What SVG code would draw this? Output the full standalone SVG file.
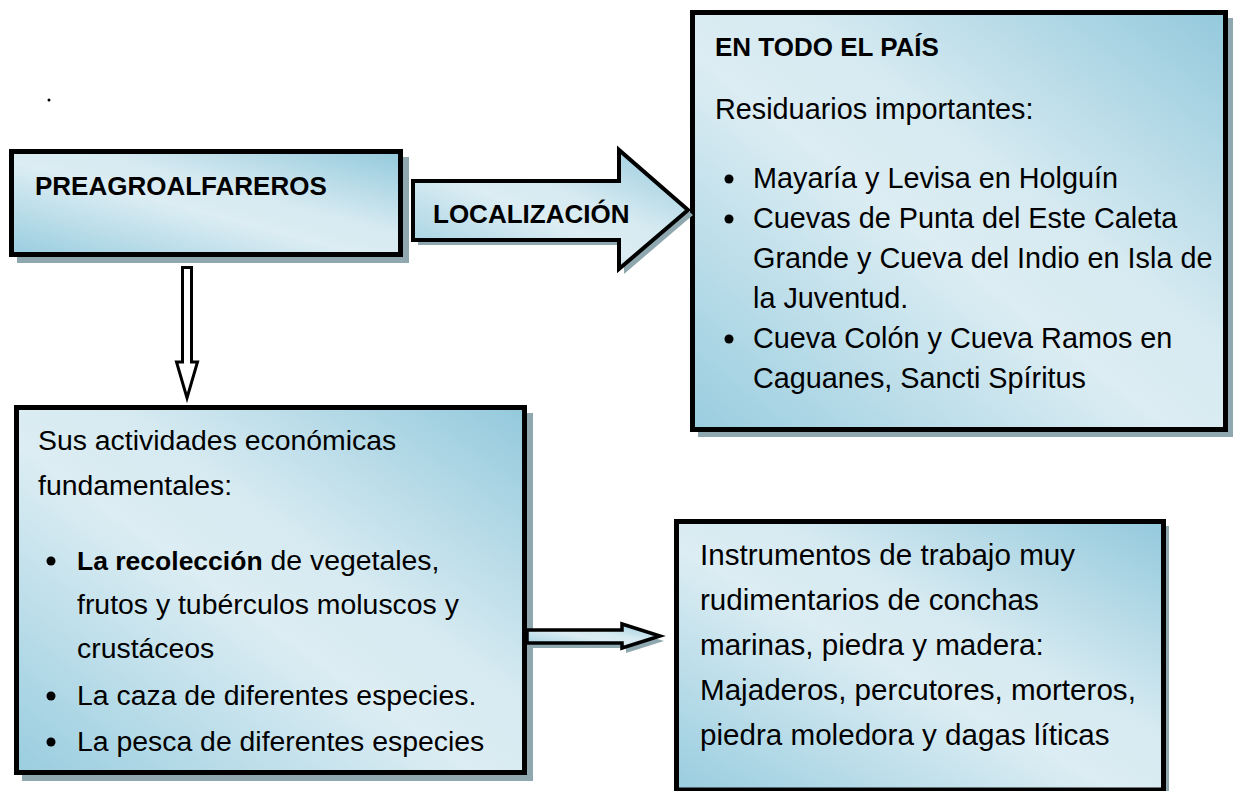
<svg xmlns="http://www.w3.org/2000/svg" width="1233" height="791" viewBox="0 0 1233 791">
<defs>
<linearGradient id="g" x1="0" y1="1" x2="1" y2="0">
<stop offset="0" stop-color="#99cddf"/>
<stop offset="0.45" stop-color="#dcedf3"/>
<stop offset="0.6" stop-color="#d6eaf1"/>
<stop offset="1" stop-color="#93c9dc"/>
</linearGradient>
<style>
.box{fill:url(#g);stroke:#000;stroke-width:5}
.sh{fill:#8fa8b0}
.t{font-family:"Liberation Sans",Arial,sans-serif;font-size:29px;fill:#000}
.b{font-family:"Liberation Sans",Arial,sans-serif;font-size:26px;font-weight:bold;fill:#000}
.arr{fill:url(#g);stroke:#000;stroke-width:4;stroke-linejoin:miter}
</style>
</defs>
<rect width="1233" height="791" fill="#fff"/>
<circle cx="49" cy="100" r="1.5" fill="#000"/>

<g id="preagroalfareros">
<rect class="sh" x="17" y="157" width="392" height="106"/>
<rect class="box" x="11.5" y="151.5" width="389" height="103"/>
<text class="b" x="35" y="195">PREAGROALFAREROS</text>
</g>

<g id="pais">
<rect class="sh" x="698" y="18" width="535" height="419"/>
<rect class="box" x="692.5" y="12.5" width="533" height="417"/>
<text class="b" x="715" y="56">EN TODO EL PAÍS</text>
<g class="t" style="font-size:28.8px">
<text x="715" y="119">Residuarios importantes:</text>
<text x="753" y="188">Mayaría y Levisa en Holguín</text>
<text x="753" y="228">Cuevas de Punta del Este Caleta</text>
<text x="753" y="268">Grande y Cueva del Indio en Isla de</text>
<text x="753" y="308">la Juventud.</text>
<text x="753" y="348">Cueva Colón y Cueva Ramos en</text>
<text x="753" y="388">Caguanes, Sancti Spíritus</text>
</g>
<circle cx="729" cy="179" r="4.5"/>
<circle cx="729" cy="219" r="4.5"/>
<circle cx="729" cy="339" r="4.5"/>
</g>

<g id="actividades">
<rect class="sh" x="22" y="413" width="511" height="368"/>
<rect class="box" x="16.5" y="407.5" width="508" height="365"/>
<g class="t" style="font-size:28.4px">
<text x="38" y="450">Sus actividades económicas</text>
<text x="38" y="495">fundamentales:</text>
<text x="77" y="570"><tspan font-weight="bold" font-size="26.5">La recolección</tspan> de vegetales,</text>
<text x="77" y="614">frutos y tubérculos moluscos y</text>
<text x="77" y="658">crustáceos</text>
<text x="77" y="705">La caza de diferentes especies.</text>
<text x="77" y="751">La pesca de diferentes especies</text>
</g>
<circle cx="51" cy="561" r="4.5"/>
<circle cx="51" cy="696" r="4.5"/>
<circle cx="51" cy="742" r="4.5"/>
</g>

<g id="instrumentos">
<rect class="sh" x="681" y="526" width="488" height="270"/>
<rect class="box" x="676.5" y="521.5" width="487" height="268.5"/>
<g class="t" style="font-size:29.6px">
<text x="700" y="565">Instrumentos de trabajo muy</text>
<text x="700" y="610">rudimentarios de conchas</text>
<text x="700" y="655">marinas, piedra y madera:</text>
<text x="700" y="700">Majaderos, percutores, morteros,</text>
<text x="700" y="745">piedra moledora y dagas líticas</text>
</g>
</g>

<g id="connectors">
<polygon class="sh" points="418,186 624,186 624,155 693,215 624,274 624,245 418,245"/>
<polygon class="arr" points="413,181 619,181 619,150 688,210 619,269 619,240 413,240"/>
<text class="b" x="433" y="223">LOCALIZACIÓN</text>
<polygon points="182.5,267.5 191.5,267.5 191.5,362 197.5,362 187,398 176.5,362 182.5,362" fill="#fff" stroke="#000" stroke-width="3"/>
<polygon class="sh" points="530,635 626,635 626,629 664,641 626,653 626,648 530,648"/>
<polygon points="527,630 622,630 622,624 660,636 622,648 622,643 527,643" fill="url(#g)" stroke="#000" stroke-width="3.5"/>
</g>
</svg>
